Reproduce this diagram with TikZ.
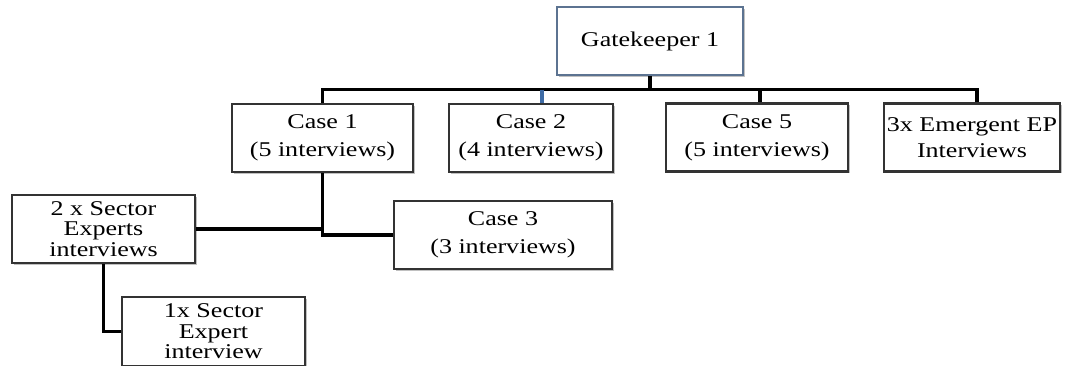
\documentclass[tikz,border=0pt]{standalone}
\usepackage{fontspec}
\setmainfont{Liberation Serif}[FakeStretch=1.24]
\usetikzlibrary{shadows}

\definecolor{boxedge}{HTML}{333333}
\definecolor{gateedge}{HTML}{5C7391}
\definecolor{linkblue}{HTML}{3F6CA6}

\tikzset{
  box/.style={draw=boxedge, line width=2.3pt, fill=white, align=center,
    inner sep=0pt, minimum height=68pt,
    drop shadow={shadow xshift=1.5pt, shadow yshift=-1.5pt, opacity=.35, fill=black!70}},
  casetext/.style={font=\fontsize{21}{28}\selectfont},
  tighttext/.style={font=\fontsize{21}{20.5}\selectfont},
  link/.style={line width=3.4pt, black},
  bluelink/.style={line width=3.4pt, linkblue},
}

\begin{document}
\begin{tikzpicture}[x=1pt, y=-1pt]
  % page
  \fill[white] (0,0) rectangle (1068,365);
  \useasboundingbox (0,0) rectangle (1068,365);

  % boxes
  \node[box, draw=gateedge, line width=2.6pt, minimum width=186pt, casetext] (gate) at (650,41) {Gatekeeper 1};

  \node[box, minimum width=181pt, casetext] (case1) at (322.5,138) {Case 1\\(5 interviews)};
  \node[box, minimum width=164pt, casetext] (case2) at (531,138) {Case 2\\(4 interviews)};
  \node[box, minimum width=182pt, casetext] (case5) at (757,137.5) {Case 5\\(5 interviews)};
  \node[box, minimum width=176pt, font=\fontsize{21}{26}\selectfont] (emerg) at (972,137.5) {3x Emergent EP\\Interviews};

  \node[box, minimum width=218pt, casetext] (case3) at (503,235) {Case 3\\(3 interviews)};
  \node[box, minimum width=183pt, tighttext] (sec2) at (103.5,229) {2 x Sector\\Experts\\interviews};
  \node[box, minimum width=183pt, minimum height=69pt, tighttext] (sec1) at (213.5,331.5) {1x Sector\\Expert\\interview};

  % top level bar
  \coordinate (bar) at (0,89.5);
  \draw[link] (gate.south) -- (gate.south |- bar);
  \draw[link, line cap=rect] (case1.north |- bar) -- ([xshift=5pt]emerg.north |- bar);
  \draw[link] (case1.north |- bar) -- (case1.north);
  \draw[bluelink] ([xshift=11pt]case2.north |- bar) -- ([xshift=11pt]case2.north);
  \draw[link] ([xshift=3pt]case5.north |- bar) -- ([xshift=3pt]case5.north);
  \draw[link] ([xshift=5pt]emerg.north |- bar) -- ([xshift=5pt]emerg.north);

  % branches under Case 1
  \draw[link] (case1.south) |- (case3.west);
  \draw[link] (sec2.east) -- (sec2.east -| case1.south);
  \draw[link] (sec2.south) |- (sec1.west);
\end{tikzpicture}
\end{document}
